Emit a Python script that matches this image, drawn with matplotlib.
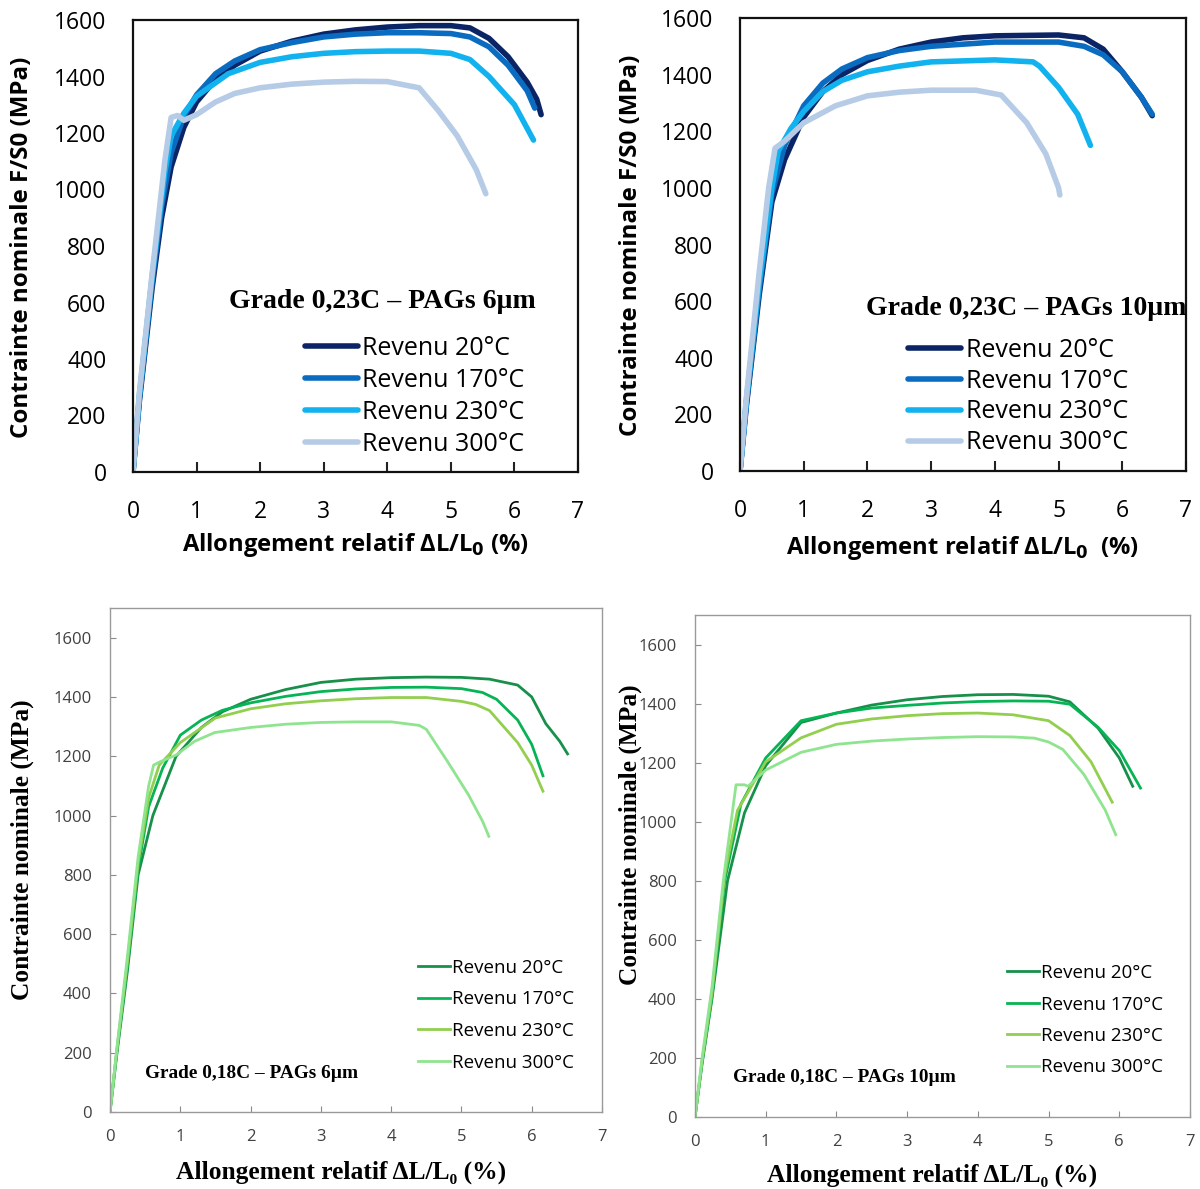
import matplotlib.pyplot as plt

plt.rcParams['font.family'] = ['Open Sans', 'DejaVu Sans']

labels = ['Revenu 20°C', 'Revenu 170°C', 'Revenu 230°C', 'Revenu 300°C']
blues = ['#0b2466', '#0a6cc0', '#12b2ef', '#b6cbe6']
greens = ['#17904a', '#07b455', '#92cf4e', '#8fe48f']

# --- Grade 0,23C - PAGs 6um ---
a_x20 = [0, 0.1, 0.3, 0.45, 0.6, 0.8, 1.0, 1.3, 1.6, 2.0, 2.5, 3.0, 3.5, 4.0, 4.5, 5.0, 5.3, 5.6, 5.9, 6.2, 6.35, 6.42]
a_y20 = [0, 250, 650, 900, 1080, 1220, 1310, 1390, 1440, 1490, 1525, 1550, 1565, 1575, 1580, 1580, 1572, 1535, 1470, 1380, 1320, 1265]
a_x170 = [0, 0.1, 0.3, 0.45, 0.6, 0.8, 1.0, 1.3, 1.6, 2.0, 2.5, 3.0, 3.5, 4.0, 4.5, 5.0, 5.3, 5.6, 5.9, 6.2, 6.32]
a_y170 = [0, 260, 670, 940, 1130, 1260, 1335, 1410, 1455, 1495, 1520, 1540, 1550, 1555, 1555, 1552, 1540, 1505, 1440, 1350, 1288]
a_x230 = [0, 0.1, 0.3, 0.5, 0.6, 0.8, 1.0, 1.5, 2.0, 2.5, 3.0, 3.5, 4.0, 4.5, 5.0, 5.3, 5.6, 6.0, 6.3]
a_y230 = [0, 270, 690, 1060, 1190, 1270, 1330, 1410, 1450, 1470, 1482, 1488, 1490, 1490, 1482, 1460, 1400, 1300, 1175]
a_x300 = [0, 0.1, 0.3, 0.5, 0.6, 0.7, 0.8, 1.0, 1.3, 1.6, 2.0, 2.5, 3.0, 3.5, 4.0, 4.5, 4.8, 5.1, 5.4, 5.55]
a_y300 = [0, 280, 700, 1100, 1255, 1262, 1245, 1265, 1310, 1340, 1360, 1373, 1380, 1383, 1382, 1360, 1280, 1190, 1070, 985]

# --- Grade 0,23C - PAGs 10um ---
b_x20 = [0, 0.1, 0.3, 0.5, 0.7, 1.0, 1.3, 1.6, 2.0, 2.5, 3.0, 3.5, 4.0, 5.0, 5.4, 5.7, 6.0, 6.3, 6.47]
b_y20 = [0, 230, 620, 950, 1100, 1250, 1340, 1400, 1450, 1490, 1515, 1530, 1537, 1540, 1530, 1490, 1410, 1320, 1255]
b_x170 = [0, 0.1, 0.3, 0.5, 0.7, 1.0, 1.3, 1.6, 2.0, 2.5, 3.0, 4.0, 5.0, 5.4, 5.7, 6.0, 6.3, 6.47]
b_y170 = [0, 240, 640, 980, 1150, 1290, 1370, 1420, 1460, 1485, 1500, 1515, 1515, 1500, 1470, 1410, 1320, 1260]
b_x230 = [0, 0.1, 0.3, 0.5, 0.6, 0.8, 1.0, 1.3, 1.6, 2.0, 2.5, 3.0, 4.0, 4.6, 4.7, 5.0, 5.3, 5.5]
b_y230 = [0, 250, 660, 1000, 1130, 1210, 1270, 1340, 1380, 1410, 1430, 1445, 1452, 1445, 1430, 1355, 1260, 1150]
b_x300 = [0, 0.1, 0.3, 0.45, 0.55, 0.7, 1.0, 1.5, 2.0, 2.5, 3.0, 3.7, 4.1, 4.5, 4.8, 5.0, 5.02]
b_y300 = [0, 260, 700, 1000, 1140, 1165, 1230, 1290, 1325, 1338, 1345, 1345, 1328, 1230, 1120, 1000, 975]

# --- Grade 0,18C - PAGs 6um ---
c_x20 = [0, 0.1, 0.25, 0.4, 0.61, 0.94, 1.3, 1.6, 2.0, 2.5, 3.0, 3.5, 4.0, 4.5, 5.0, 5.4, 5.8, 6.0, 6.2, 6.4, 6.51]
c_y20 = [0, 200, 480, 800, 1000, 1200, 1297, 1350, 1392, 1425, 1449, 1460, 1465, 1467, 1466, 1460, 1440, 1400, 1310, 1250, 1208]
c_x170 = [0, 0.1, 0.25, 0.4, 0.55, 0.75, 1.0, 1.3, 1.6, 2.0, 2.5, 3.0, 3.5, 4.0, 4.5, 5.0, 5.3, 5.5, 5.8, 6.0, 6.16]
c_y170 = [0, 210, 500, 820, 1030, 1160, 1271, 1322, 1355, 1380, 1402, 1418, 1427, 1432, 1433, 1428, 1415, 1392, 1322, 1240, 1134]
c_x230 = [0, 0.1, 0.25, 0.4, 0.55, 0.7, 1.0, 1.5, 2.0, 2.5, 3.0, 3.5, 4.0, 4.5, 5.0, 5.2, 5.4, 5.8, 6.0, 6.16]
c_y230 = [0, 215, 510, 840, 1060, 1170, 1246, 1329, 1360, 1377, 1387, 1394, 1398, 1398, 1385, 1375, 1354, 1246, 1170, 1082]
c_x300 = [0, 0.1, 0.25, 0.4, 0.55, 0.62, 0.7, 0.94, 1.2, 1.49, 2.0, 2.5, 3.0, 3.5, 4.0, 4.4, 4.5, 4.8, 5.1, 5.3, 5.39]
c_y300 = [0, 220, 530, 860, 1100, 1170, 1180, 1204, 1250, 1280, 1297, 1308, 1314, 1316, 1316, 1304, 1291, 1183, 1070, 981, 930]

# --- Grade 0,18C - PAGs 10um ---
d_x20 = [0, 0.1, 0.24, 0.46, 0.7, 1.0, 1.5, 2.0, 2.5, 3.0, 3.5, 4.0, 4.5, 5.0, 5.3, 5.7, 6.0, 6.19]
d_y20 = [0, 180, 400, 800, 1030, 1190, 1336, 1368, 1395, 1413, 1424, 1430, 1431, 1425, 1406, 1317, 1216, 1120]
d_x170 = [0, 0.1, 0.24, 0.42, 0.65, 1.0, 1.5, 2.0, 2.5, 3.0, 3.5, 4.0, 4.5, 5.0, 5.3, 5.7, 6.0, 6.3]
d_y170 = [0, 185, 410, 800, 1060, 1216, 1342, 1368, 1385, 1394, 1402, 1407, 1409, 1408, 1398, 1320, 1241, 1114]
d_x230 = [0, 0.1, 0.24, 0.42, 0.6, 1.0, 1.5, 2.0, 2.5, 3.0, 3.5, 4.0, 4.5, 5.0, 5.3, 5.6, 5.9]
d_y230 = [0, 190, 420, 820, 1038, 1203, 1284, 1330, 1348, 1359, 1366, 1368, 1362, 1342, 1292, 1203, 1066]
d_x300 = [0, 0.1, 0.24, 0.4, 0.58, 0.7, 0.75, 1.0, 1.5, 2.0, 2.5, 3.0, 3.5, 4.0, 4.5, 4.8, 5.0, 5.2, 5.5, 5.8, 5.95]
d_y300 = [0, 200, 440, 800, 1125, 1125, 1120, 1175, 1235, 1262, 1273, 1280, 1285, 1288, 1287, 1283, 1270, 1245, 1160, 1040, 956]

fig = plt.figure(figsize=(12, 11.89), dpi=100)
W, H = 1200, 1189
serif = ['Liberation Serif', 'DejaVu Serif']


def box(l, t, r, b):
    return [l / W, 1 - b / H, (r - l) / W, (b - t) / H]


def top_panel(rect, xs, ys, title, tx, ty, xlabel, lab_x, lab_y, leg_x, leg_y, spacing):
    ax = fig.add_axes(box(*rect))
    for x, y, c in zip(xs, ys, blues):
        ax.plot(x, y, color=c, lw=4, solid_capstyle='round', solid_joinstyle='round')
    ax.set_xlim(0, 7)
    ax.set_ylim(0, 1600)
    ax.set_xticks(range(8))
    ax.set_yticks(range(0, 1601, 200))
    ax.tick_params(direction='in', length=7, width=1.5, labelsize=16.5, color='#222222')
    ax.tick_params(axis='x', pad=20)
    ax.tick_params(axis='y', pad=19, length=0)
    for s in ax.spines.values():
        s.set_linewidth(1.6)
        s.set_color('#111111')
    fig.text(lab_y[0] / W, 1 - lab_y[1] / H, 'Contrainte nominale F/S0 (MPa)', rotation=90,
             ha='center', va='center', fontsize=17.4, fontweight='bold')
    fig.text(lab_x[0] / W, 1 - lab_x[1] / H, xlabel,
             ha='center', va='center', fontsize=17.1, fontweight='bold')
    fig.text(tx / W, 1 - ty / H, title, ha='left', va='center', fontsize=20,
             fontweight='bold', family=serif)
    ax.legend(labels, loc='upper left', bbox_to_anchor=(leg_x / W, 1 - leg_y / H),
              bbox_transform=fig.transFigure, frameon=False, fontsize=18,
              handlelength=2.1, handletextpad=0.2, labelspacing=spacing, borderpad=0, borderaxespad=0)
    return ax


def bottom_panel(rect, xs, ys, title, tx, ty, lab_x, lab_y, leg_x, leg_y):
    ax = fig.add_axes(box(*rect))
    for x, y, c in zip(xs, ys, greens):
        ax.plot(x, y, color=c, lw=2, solid_joinstyle='round')
    ax.set_xlim(0, 7)
    ax.set_ylim(0, 1700)
    ax.set_xticks(range(8))
    ax.set_yticks(range(0, 1601, 200))
    ax.tick_params(direction='in', length=4, width=0.8, labelsize=12, color='#8a8a8a',
                   labelcolor='#404040')
    ax.tick_params(axis='x', pad=12)
    ax.tick_params(axis='y', pad=13)
    for s in ax.spines.values():
        s.set_linewidth(1)
        s.set_color('#9a9a9a')
    fig.text(lab_y[0] / W, 1 - lab_y[1] / H, 'Contrainte nominale (MPa)', rotation=90,
             ha='center', va='center', fontsize=18.3, fontweight='bold', family=serif)
    fig.text(lab_x[0] / W, 1 - lab_x[1] / H, 'Allongement relatif ΔL/L₀ (%)',
             ha='center', va='center', fontsize=18.4, fontweight='bold', family=serif)
    fig.text(tx / W, 1 - ty / H, title, ha='left', va='center', fontsize=13.9,
             fontweight='bold', family=serif)
    ax.legend(labels, loc='upper left', bbox_to_anchor=(leg_x / W, 1 - leg_y / H),
              bbox_transform=fig.transFigure, frameon=False, fontsize=13.5,
              handlelength=1.7, handletextpad=0.1, labelspacing=0.72, borderpad=0, borderaxespad=0)
    return ax


top_panel((133, 20, 578, 472), [a_x20, a_x170, a_x230, a_x300], [a_y20, a_y170, a_y230, a_y300],
          'Grade 0,23C – PAGs 6µm', 229, 301, 'Allongement relatif ΔL/L$_\\mathbf{0}$ (%)',
          (355, 545), (22, 247), 305, 336, 0.28)
top_panel((740, 18, 1186, 471), [b_x20, b_x170, b_x230, b_x300], [b_y20, b_y170, b_y230, b_y300],
          'Grade 0,23C – PAGs 10µm', 866, 309, 'Allongement relatif ΔL/L$_\\mathbf{0}$  (%)',
          (963, 548), (631, 245), 908, 338, 0.23)
bottom_panel((110, 608, 602, 1112), [c_x20, c_x170, c_x230, c_x300], [c_y20, c_y170, c_y230, c_y300],
             'Grade 0,18C – PAGs 6µm', 145, 1073, (341, 1172), (22, 850), 418, 959)
bottom_panel((695, 615, 1190, 1117), [d_x20, d_x170, d_x230, d_x300], [d_y20, d_y170, d_y230, d_y300],
             'Grade 0,18C – PAGs 10µm', 733, 1077, (932, 1175), (630, 835), 1007, 964)

fig.savefig('out.png', dpi=100)
